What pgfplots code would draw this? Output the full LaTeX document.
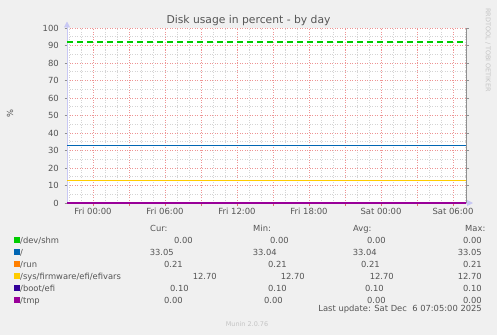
\documentclass[border=0pt]{standalone}
\usepackage{pgfplots}
\pgfplotsset{compat=1.18}
\usepackage{fontspec}
\setmainfont{DejaVu Sans}
\usetikzlibrary{arrows.meta}
\definecolor{bgc}{HTML}{F0F0F0}
\definecolor{mgrid}{HTML}{EE9494}
\definecolor{mtick}{HTML}{E07070}
\definecolor{sgrid}{HTML}{D4D4D4}
\definecolor{axc}{HTML}{C8C8F4}
\definecolor{framec}{HTML}{909090}
\definecolor{txt}{HTML}{555555}
\definecolor{ltxt}{HTML}{C4C4C4}
\definecolor{cA}{HTML}{00CC00}
\definecolor{cB}{HTML}{0066B3}
\definecolor{cC}{HTML}{FF8000}
\definecolor{cD}{HTML}{FFCC00}
\definecolor{cE}{HTML}{330099}
\definecolor{cF}{HTML}{990099}
\newcommand{\lf}{\fontsize{8.4}{10}\selectfont}
\begin{document}
\begin{tikzpicture}[x=1bp,y=1bp]
\fill[bgc] (0,0) rectangle (497,335);
\useasboundingbox (0,0) rectangle (497,335);
\begin{axis}[
  at={(67bp,132bp)}, anchor=south west,
  width=399bp, height=175bp, scale only axis,
  xmin=-2.1667, xmax=31.0833, ymin=0, ymax=100,
  clip=false,
  axis background/.style={fill=white},
  axis line style={draw=none},
  xtick={0,6,12,18,24,30},
  xticklabels={Fri 00:00,Fri 06:00,Fri 12:00,Fri 18:00,Sat 00:00,Sat 06:00},
  extra x ticks={3,9,15,21,27},
  extra x tick labels={},
  extra x tick style={grid=major},
  minor xtick={-2,-1,1,2,4,5,7,8,10,11,13,14,16,17,19,20,22,23,25,26,28,29,31},
  ytick={0,10,...,100},
  minor ytick={5,15,...,95},
  grid=both,
  major grid style={mgrid, dash pattern=on 1bp off 1.5bp, line width=0.6bp},
  minor grid style={sgrid, dash pattern=on 1bp off 1.5bp, line width=0.6bp},
  tick align=outside,
  xtick pos=left, ytick pos=both,
  major tick length=2.5bp, minor tick length=0pt,
  xtick style={mtick, line width=0.8bp},
  ytick style={framec, line width=0.8bp},
  /pgf/number format/assume math mode=true,
  ticklabel style={font=\fontsize{8.5}{10}\selectfont, text=txt},
  yticklabel style={inner sep=0pt, xshift=-5.5bp},
  xticklabel style={inner sep=0pt, yshift=-2.5bp},
]
\draw[axc, line width=1bp, -{Triangle[length=6bp,width=6bp]}] (rel axis cs:0,0) -- ([yshift=6.5bp]rel axis cs:0,1);
\draw[axc, line width=1bp, -{Triangle[length=6bp,width=6bp]}] (rel axis cs:0,0) -- ([xshift=7bp]rel axis cs:1,0);
\addplot[cA, line width=1.3bp, dash pattern=on 6bp off 4bp] coordinates {(-2.1667,92) (31.0833,92)};
\addplot[cA, line width=1.3bp] coordinates {(-2.1667,0) (31.0833,0)};
\addplot[cB, line width=1.3bp] coordinates {(-2.1667,33.05) (31.0833,33.05)};
\addplot[cC, line width=1.3bp] coordinates {(-2.1667,0.21) (31.0833,0.21)};
\addplot[cD, line width=1.3bp] coordinates {(-2.1667,12.70) (31.0833,12.70)};
\addplot[cE, line width=1.3bp] coordinates {(-2.1667,0.10) (31.0833,0.10)};
\addplot[cF, line width=1.3bp] coordinates {(-2.1667,0.00) (31.0833,0.00)};
\end{axis}
\draw[framec, line width=1bp] (466,132) -- (466,307);
\node[anchor=base, font=\fontsize{10.8}{12}\selectfont, text=txt, inner sep=0pt] at (248.5,311.5) {Disk usage in percent - by day};
\node[rotate=90, font=\lf, text=txt, inner sep=0pt] at (10,221) {\%};
\node[rotate=-90, font=\fontsize{6.5}{7}\selectfont, text=ltxt, inner sep=0pt] at (488,285) {RRDTOOL / TOBI OETIKER};
\node[font=\fontsize{6.5}{7}\selectfont, text=ltxt, inner sep=0pt] at (247,10.5) {Munin 2.0.76};
\begin{scope}[every node/.style={font=\lf, text=txt, inner sep=0pt}]
\node[anchor=base west] at (150,104) {Cur:};
\node[anchor=base west] at (253,104) {Min:};
\node[anchor=base west] at (353,104) {Avg:};
\node[anchor=base west] at (465,104) {Max:};
\fill[cA] (14,92) rectangle (20,98);
\fill[cB] (14,80) rectangle (20,86);
\fill[cC] (14,68) rectangle (20,74);
\fill[cD] (14,56) rectangle (20,62);
\fill[cE] (14,44) rectangle (20,50);
\fill[cF] (14,32) rectangle (20,38);
\node[anchor=base west] at (20,92) {/dev/shm};
\node[anchor=base west] at (20,80) {/};
\node[anchor=base west] at (20,68) {/run};
\node[anchor=base west] at (20,56) {/sys/firmware/efi/efivars};
\node[anchor=base west] at (20,44) {/boot/efi};
\node[anchor=base west] at (20,32) {/tmp};
% row 1
\node[anchor=base east] at (193,92) {0.00};
\node[anchor=base east] at (289,92) {0.00};
\node[anchor=base east] at (386,92) {0.00};
\node[anchor=base east] at (482,92) {0.00};
% row 2
\node[anchor=base east] at (174,80) {33.05};
\node[anchor=base east] at (277,80) {33.04};
\node[anchor=base east] at (377,80) {33.04};
\node[anchor=base east] at (482,80) {33.05};
% row 3
\node[anchor=base east] at (183,68) {0.21};
\node[anchor=base east] at (287,68) {0.21};
\node[anchor=base east] at (380,68) {0.21};
\node[anchor=base east] at (482,68) {0.21};
% row 4
\node[anchor=base east] at (217,56) {12.70};
\node[anchor=base east] at (305,56) {12.70};
\node[anchor=base east] at (394,56) {12.70};
\node[anchor=base east] at (482,56) {12.70};
% row 5
\node[anchor=base east] at (189,44) {0.10};
\node[anchor=base east] at (287,44) {0.10};
\node[anchor=base east] at (384,44) {0.10};
\node[anchor=base east] at (482,44) {0.10};
% row 6
\node[anchor=base east] at (183,32) {0.00};
\node[anchor=base east] at (283,32) {0.00};
\node[anchor=base east] at (386,32) {0.00};
\node[anchor=base east] at (482,32) {0.00};
\node[anchor=base east] at (482,24) {Last update: Sat Dec\ \ 6 07:05:00 2025};
\end{scope}
\end{tikzpicture}
\end{document}
